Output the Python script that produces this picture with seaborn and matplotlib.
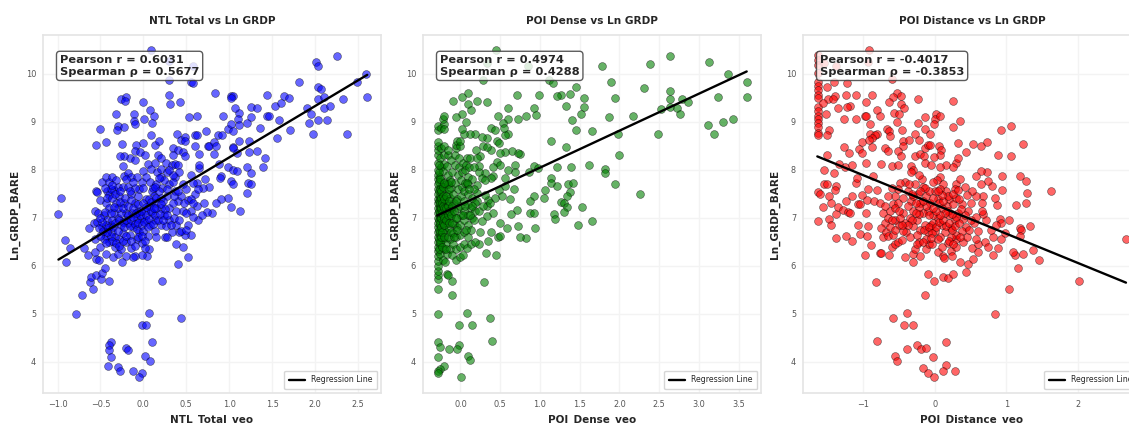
import pandas as pd
import seaborn as sns
import matplotlib.pyplot as plt

# values as (x, Ln_GRDP_BARE)
ntl_points = [
    (-0.79,4.99),(0.06,5.01),(-0.02,4.76),(0.03,4.76),(0.44,4.91),(0.10,4.42),(-0.38,4.41),(-0.40,4.34),(-0.40,4.25),(-0.20,4.29),
    (-0.18,4.25),(-0.38,4.09),(0.02,4.12),(0.08,4.02),(-0.41,3.91),(-0.30,3.89),(-0.27,3.81),(-0.12,3.81),(-0.02,3.76),(-0.05,3.69),
    (-0.71,5.39),(-0.59,5.51),(-0.62,5.66),(-0.61,5.76),(-0.55,5.81),(-0.49,5.73),(-0.48,5.85),(-0.45,5.95),(-0.40,5.69),(0.22,5.68),
    (0.40,6.04),(0.52,6.18),(-0.90,6.07),(-0.86,6.37),(-0.91,6.54),(-0.99,7.08),(-0.96,7.42),(-0.69,6.38),(-0.65,6.22),(-0.63,6.79),
    (0.09,10.5),(0.30,10.26),(0.58,10.17),(0.30,9.88),(0.56,9.84),(0.58,9.81),(0.30,9.57),(0.31,9.38),(0.43,9.41),(0.84,9.6),
    (1.02,9.53),(1.04,9.54),(1.02,9.49),(-0.26,9.48),(-0.2,9.51),(-0.21,9.44),(0,9.42),(0.08,9.24),(0.12,9.12),(0.01,9.07),
    (-0.32,9.16),(-0.11,9.16),(-0.11,9.01),(-0.10,8.96),(0.1,8.97),(-0.29,8.92),(-0.23,8.9),(-0.31,8.82),(-0.51,8.85),(-0.44,8.59),
    (-0.55,8.51),(-0.25,8.53),(0.09,8.72),(-0.01,8.56),(-0.09,8.51),(-0.10,8.40),(-0.04,8.38),(0.02,8.30),(0.14,8.51),(0.18,8.6),
    (0.39,8.74),(0.34,8.45),(0.40,8.42),(0.46,8.37),(0.35,8.3),(0.49,8.28),(0.44,8.62),(0.49,8.69),(0.48,8.6),(0.53,9.1),
    (0.63,9.13),(0.6,8.73),(0.63,8.73),(0.6,8.49),(0.73,8.8),(0.75,8.5),(0.77,8.49),(0.82,8.57),(0.85,8.49),(0.82,8.33),
    (0.65,8.33),(0.87,8.73),(0.92,8.73),(0.93,9.13),(0.99,8.85),(1.02,8.96),(1.04,8.8),(1.11,9.18),(1.07,9.29),(1.10,9.07),
    (1.12,8.94),(1.12,8.6),(1.04,8.47),(1.05,8.46),(1.09,8.36),(1.23,8.6),(1.21,8.98),(1.26,9.1),(1.25,9.3),(1.33,9.28),
    (1.36,8.87),(1.23,8.38),(1.32,8.4),(1.42,8.25),(1.40,8.06),(1.44,9.55),(1.54,9.33),(1.6,9.4),(1.64,9.54),(1.70,9.49),
    (1.44,9.13),(1.47,9.12),(1.58,9.03),(1.71,8.83),(1.56,8.67),(1.81,9.83),(1.91,9.28),(1.95,9.17),(1.93,8.98),(1.98,8.74),
    (2.03,9.04),(2.14,9.03),(2.10,9.28),(2.17,9.33),(2.04,9.48),(2.11,9.51),(2.03,9.72),(2.07,9.68),(2.01,10.24),(2.04,10.17),
    (2.26,10.38),(2.59,9.99),(2.49,9.83),(2.61,9.52),(2.33,9.47),(2.37,8.74),(1.21,8.05),(1.26,7.93),(1.22,7.72),(1.25,7.71),
    (1.21,7.52),(1.13,7.14),(1.02,7.23),(0.99,7.41),(0.99,8.05),(1.05,8.0),(1.09,7.97),(1.02,7.76),(1.05,7.71),(0.90,7.87),
    (0.89,7.82),(0.88,8.12),(0.91,7.4),(0.85,7.31),(0.80,7.1),(0.74,7.12),(0.71,7.31),(0.76,7.65),(0.70,7.62),(0.65,8.03),
    (0.65,8.1),(0.72,7.8),(0.63,7.73),(0.6,7.5),(0.58,7.72),(0.64,7.6),(0.62,7.25),(0.55,7.15),(0.64,6.95),(0.68,7.05),
    (0.52,6.85),(0.55,6.65),(0.48,6.65),(0.38,6.45),(0.46,6.4),(0.42,6.7),(0.38,6.85),(0.33,6.7),(0.3,6.95),(0.25,6.6),
    (0.2,6.85),(0.14,6.72),(0.07,6.35),(0.04,6.2),(-0.02,6.22),(-0.1,6.2),(-0.12,6.18),(-0.2,6.2),(-0.25,6.07),(-0.35,6.18),
    (-0.44,6.25),(-0.55,6.15),(-0.52,6.13),(-0.56,6.28),(-0.5,6.4),(-0.56,6.55),(-0.58,6.9),(-0.54,6.92),(-0.56,7.14),(-0.53,7.1),
    (-0.55,7.55),(-0.54,7.53),(-0.5,7.37),(-0.48,7.75),(-0.43,7.85),(-0.4,7.75),(-0.36,7.85),(-0.42,7.55),(-0.4,7.48),(-0.34,7.58),
    (-0.3,7.65),(-0.44,7.3),(-0.4,7.2),(-0.46,7.05),(-0.48,6.8),(-0.42,6.95),(-0.38,6.85),(-0.44,6.62),(-0.4,6.5),(-0.36,6.7),
    (-0.33,6.4),(-0.28,6.55),(-0.3,6.25),(-0.26,6.85),(-0.3,7.0),(-0.32,7.3),(-0.28,7.45),(-0.24,7.65),(-0.22,7.3),(-0.2,7.1),
    (-0.18,6.9),(-0.24,6.68),(-0.2,6.5),(-0.15,6.38),(-0.16,6.65),(-0.12,6.8),(-0.08,6.55),(-0.05,6.7),(-0.02,6.48),(0.02,6.38),
    (0.05,6.62),(0.08,6.85),(0.03,6.95),(-0.03,7.0),(-0.08,6.98),(-0.13,7.1),(-0.1,7.3),(-0.06,7.45),(-0.14,7.5),(-0.18,7.65),
    (-0.22,7.88),(-0.24,8.08),(-0.18,7.93),(-0.14,7.85),(-0.16,8.25),(-0.22,8.28),(-0.27,8.29),(-0.1,8.2),(-0.05,7.6),(-0.02,7.75),
    (0.0,7.98),(0.03,7.85),(0.05,8.13),(0.09,8.02),(0.08,7.75),(0.1,7.55),(0.03,7.4),(0.06,7.25),(0.1,7.1),(0.13,6.95),
    (0.14,7.3),(0.12,7.45),(0.15,7.7),(0.16,7.95),(0.14,8.15),(0.17,8.3),(0.2,8.25),(0.2,8.02),(0.2,7.85),(0.22,7.62),
    (0.2,7.42),(0.2,7.2),(0.24,7.05),(0.26,6.82),(0.3,7.2),(0.28,7.45),(0.3,7.7),(0.28,7.95),(0.26,8.15),(0.33,8.1),
    (0.37,8.12),(0.4,8.1),(0.37,7.85),(0.34,7.75),(0.37,7.55),(0.4,7.35),(0.38,7.15),(0.36,7.0),(0.42,6.95),(0.46,7.15),
    (0.44,7.45),(0.46,7.7),(0.42,7.95),(0.5,7.6),(0.52,7.38),(0.5,7.1),(0.55,7.9),(0.56,7.4),(0.58,7.3),(0.02,7.15),
    (-0.06,7.15),(0.15,6.6),(0.27,6.6),(0.23,7.35),(-0.34,7.1),(-0.36,6.95),(-0.52,6.78),(-0.46,6.55),(-0.33,6.6),(-0.26,6.35),
]
# the crowded middle of the first panel
ntl_core_points = [
    (-0.5,6.62),(-0.47,6.72),(-0.44,6.85),(-0.41,6.78),(-0.38,6.62),(-0.35,6.8),(-0.33,6.9),(-0.3,6.72),(-0.28,6.95),(-0.26,7.1),
    (-0.24,6.92),(-0.22,6.8),(-0.2,6.95),(-0.18,7.05),(-0.16,6.82),(-0.14,6.95),(-0.12,7.02),(-0.1,6.88),(-0.08,6.76),(-0.06,6.9),
    (-0.04,7.05),(-0.02,6.85),(0.0,6.72),(0.01,6.92),(0.03,7.05),(0.05,6.8),(0.07,6.98),(0.09,7.15),(0.11,6.88),(0.13,7.05),
    (0.15,7.2),(0.17,6.95),(0.19,7.08),(0.21,7.28),(0.23,6.95),(0.25,7.18),(-0.3,7.2),(-0.27,7.32),(-0.24,7.2),(-0.21,7.42),
    (-0.18,7.25),(-0.15,7.38),(-0.12,7.2),(-0.09,7.1),(-0.06,7.28),(-0.03,7.15),(0.0,7.3),(0.03,7.22),(0.06,7.4),(0.09,7.32),
    (0.12,7.2),(0.15,7.42),(0.18,7.55),(0.11,7.62),(-0.36,6.52),(-0.32,6.48),(-0.28,6.42),(-0.24,6.52),(-0.2,6.62),(-0.15,6.52),
    (-0.1,6.42),(-0.06,6.6),(-0.02,6.62),(0.02,6.52),(-0.48,6.92),(-0.45,7.12),(-0.42,7.42),(-0.38,7.6),(-0.36,7.42),(-0.33,7.5),
    (-0.38,7.1),(-0.34,7.22),(-0.42,6.7),(-0.5,7.0),(-0.44,6.48),(0.27,7.05),(0.32,6.85),(0.34,7.3),(0.36,7.45),(0.27,7.6),
    (0.44,6.72),(0.5,6.75),(0.58,7.02),(0.47,7.3),(0.4,7.55),(0.35,7.9),(0.3,8.0),(0.24,7.78),(0.18,7.82),(0.13,7.65),
    (-0.1,7.62),(-0.07,7.85),(-0.12,7.75),(-0.16,7.55),(-0.2,7.8),(-0.27,7.55),(-0.32,7.78),(-0.37,7.68),(-0.45,7.62),(0.0,7.62),
]

dense_points = [
    (2.63,10.38),(3.12,10.24),(2.38,10.21),(1.78,10.17),(0.85,10.17),(0.45,10.49),(0.33,10.22),(0.28,9.88),(1.11,9.88),(1.16,9.81),
    (1.89,9.83),(3.37,9.99),(3.6,9.83),(3.6,9.52),(3.24,9.52),(2.31,9.71),(2.63,9.64),(2.63,9.48),(2.79,9.48),(2.86,9.41),
    (2.52,9.27),(2.63,9.32),(2.72,9.29),(2.76,9.17),(3.11,8.94),(3.19,8.75),(3.3,8.99),(3.43,9.05),(2.49,8.74),(2.17,9.12),
    (1.87,9.11),(1.94,9.49),(2.26,7.49),(1.95,7.71),(1.99,8.3),(1.98,8.74),(1.66,8.8),(1.62,8.11),(1.82,8.01),(1.82,7.94),
    (1.66,6.94),(1.48,6.85),(1.53,7.23),(1.45,8.84),(1.4,9.03),(1.52,9.16),(1.55,9.31),(1.56,9.49),(1.45,9.72),(1.38,9.58),
    (1.27,9.55),(1.22,9.54),(1.33,9.33),(0.99,9.55),(0.71,9.55),(0.6,9.29),(0.93,9.29),(0.95,9.14),(0.83,9.12),(0.73,9.05),
    (0.6,9.06),(0.47,9.12),(0.53,8.97),(0.33,9.41),(0.21,9.43),(0.09,9.6),(0.02,9.51),(-0.09,9.44),(0.1,9.38),(0.13,9.24),
    (0.02,9.17),(-0.05,9.11),(0.07,8.99),(1.14,8.61),(1.33,8.48),(1.39,8.05),(1.21,8.05),(0.92,8.09),(0.98,8.03),(0.86,7.96),
    (1.14,7.83),(1.14,7.73),(1.22,7.67),(1.35,7.71),(1.41,7.73),(1.38,7.53),(1.34,7.45),(1.06,7.58),(1.05,7.41),(0.92,7.46),
    (0.88,7.35),(1.27,7.33),(1.3,7.3),(1.34,7.23),(1.3,7.13),(1.18,7.07),(1.19,6.98),(0.87,7.1),(0.93,7.1),(0.94,6.79),
    (0.83,6.58),(0.75,6.6),(0.72,6.84),(0.71,7.16),(0.64,7.08),(0.67,7.6),(0.75,8.33),(0.73,8.35),(0.69,8.1),(0.69,7.96),
    (0.6,8.0),(0.65,8.4),(0.56,8.37),(0.5,8.35),(0.46,8.6),(0.49,8.56),(0.39,8.42),(0.38,8.87),(0.44,8.82),(0.6,8.74),
    (0.56,8.72),(0.55,8.87),(0.33,8.67),(0.27,8.68),(0.18,8.74),(0.12,8.74),(0.04,8.75),(0.2,8.42),(0.28,8.49),(0.33,8.48),
    (0.46,8.17),(0.5,8.11),(0.41,8.05),(0.41,7.87),(0.39,7.83),(0.56,7.83),(0.56,7.66),(0.48,7.59),(0.52,7.45),(0.63,7.4),
    (0.44,7.42),(0.31,7.94),(0.23,7.96),(0.23,8.09),(0.25,8.28),(0.27,7.83),(0.21,7.69),(0.21,7.52),(0.21,7.35),(0.35,7.38),
    (0.33,7.24),(0.41,7.1),(0.33,7.03),(0.27,6.93),(0.39,6.71),(0.5,6.9),(0.58,6.79),(0.47,6.6),(0.5,6.63),(0.35,6.51),
    (0.45,6.22),(0.32,6.27),(0.23,6.46),(0.25,6.71),(0.3,5.67),(-0.28,4.99),(0.08,5.01),(-0.02,4.76),(0.15,4.76),(0.37,4.92),
    (0.4,4.43),(-0.28,4.42),(-0.25,4.3),(-0.14,4.26),(-0.02,4.35),(-0.04,4.26),(0.1,4.13),(0.12,4.03),(-0.28,4.1),(-0.21,3.91),
    (-0.25,3.85),(-0.28,3.8),(-0.28,3.77),(0.01,3.69),(-0.11,5.39),(-0.28,5.51),(-0.1,5.68),(-0.17,5.82),(-0.15,5.81),(-0.28,5.72),
    (-0.28,5.8),(-0.28,5.9),(-0.28,6.0),(-0.28,6.1),(-0.28,6.2),(-0.28,6.3),(-0.28,6.4),(-0.28,6.5),(-0.28,6.6),(-0.28,6.7),
    (-0.28,6.8),(-0.28,6.9),(-0.28,7.0),(-0.28,7.1),(-0.28,7.2),(-0.28,7.3),(-0.28,7.4),(-0.28,7.5),(-0.28,7.6),(-0.28,7.7),
    (-0.28,7.8),(-0.28,7.9),(-0.28,8.0),(-0.28,8.15),(-0.28,8.3),(-0.28,8.42),(-0.28,8.5),(-0.28,8.58),(-0.28,8.82),(-0.28,8.92),
    (-0.26,6.25),(-0.25,6.45),(-0.25,6.65),(-0.26,6.85),(-0.25,7.05),(-0.26,7.25),(-0.25,7.45),(-0.24,7.65),(-0.26,7.85),(-0.24,8.05),
    (-0.25,8.25),(-0.24,8.45),(-0.24,8.88),(-0.21,8.95),(-0.22,9.05),(-0.2,9.12),(-0.2,8.85),(-0.22,6.12),(-0.21,6.35),(-0.22,6.55),
    (-0.21,6.75),(-0.21,6.95),(-0.22,7.15),(-0.21,7.35),(-0.2,7.55),(-0.21,7.75),(-0.22,7.98),(-0.2,8.12),(-0.21,8.3),(-0.2,8.5),
    (-0.17,6.25),(-0.18,6.48),(-0.18,6.7),(-0.17,6.9),(-0.18,7.1),(-0.17,7.3),(-0.16,7.5),(-0.18,7.7),(-0.16,7.9),(-0.17,8.08),
    (-0.15,8.3),(-0.16,8.42),(-0.19,6.08),(-0.13,6.35),(-0.13,6.55),(-0.14,6.78),(-0.13,7.0),(-0.12,7.2),(-0.13,7.42),(-0.12,7.62),
    (-0.13,7.78),(-0.1,7.95),(-0.12,8.2),(-0.1,6.22),(-0.09,6.45),(-0.09,6.68),(-0.08,6.88),(-0.1,7.1),(-0.08,7.3),(-0.09,7.5),
    (-0.07,7.72),(-0.07,8.1),(-0.07,8.3),(-0.05,8.45),(-0.06,8.52),(-0.04,8.6),(-0.05,6.12),(-0.05,6.35),(-0.05,6.6),(-0.04,6.8),
    (-0.04,7.0),(-0.03,7.2),(-0.04,7.4),(-0.03,7.6),(-0.03,7.9),(-0.02,8.05),(-0.02,8.25),(0.0,8.5),(0.0,8.6),(-0.01,6.18),
    (-0.01,6.4),(0.0,6.65),(0.0,6.85),(0.01,7.05),(0.0,7.25),(0.01,7.45),(0.02,7.65),(0.01,7.78),(0.02,7.95),(0.03,8.15),
    (0.02,8.85),(0.03,6.22),(0.04,6.45),(0.04,6.7),(0.05,6.95),(0.04,7.15),(0.05,7.35),(0.05,7.55),(0.06,7.72),(0.06,8.0),
    (0.08,8.25),(0.07,8.1),(0.08,6.38),(0.09,6.6),(0.09,6.85),(0.09,7.05),(0.09,7.28),(0.1,7.5),(0.1,7.7),(0.1,7.85),
    (0.11,8.05),(0.12,8.25),(0.13,6.45),(0.13,6.75),(0.14,7.0),(0.13,7.2),(0.14,7.42),(0.17,7.6),(0.15,7.8),(0.18,6.5),
    (0.17,6.95),(0.19,7.15),(0.18,7.3),(0.23,7.15),(0.21,8.25),(0.17,8.05),(0.29,7.25),(0.31,7.48),(0.31,7.78),(0.37,7.3),
]
# the crowded left edge of the second panel
dense_core_points = [
    (-0.27,6.35),(-0.27,6.55),(-0.27,6.75),(-0.27,6.95),(-0.27,7.15),(-0.27,7.35),(-0.27,7.55),(-0.27,7.75),(-0.27,7.95),(-0.27,8.1),
    (-0.26,6.5),(-0.26,6.7),(-0.26,7.0),(-0.26,7.2),(-0.26,7.4),(-0.26,7.6),(-0.26,7.8),(-0.25,6.9),(-0.25,7.1),(-0.25,7.3),
    (-0.24,6.6),(-0.24,6.8),(-0.24,7.0),(-0.24,7.2),(-0.24,7.42),(-0.24,7.55),(-0.23,6.4),(-0.23,6.7),(-0.23,7.1),(-0.23,7.3),
    (-0.22,6.9),(-0.22,7.05),(-0.22,7.25),(-0.22,7.45),(-0.22,7.65),(-0.2,6.6),(-0.2,6.85),(-0.2,7.0),(-0.2,7.2),(-0.2,7.4),
    (-0.18,6.35),(-0.18,6.95),(-0.18,7.2),(-0.18,7.45),(-0.16,6.6),(-0.16,7.05),(-0.16,7.25),(-0.16,7.7),(-0.14,6.9),(-0.14,7.15),
    (-0.14,7.35),(-0.14,7.6),(-0.12,6.7),(-0.12,7.05),(-0.12,7.75),(-0.1,6.9),(-0.1,7.25),(-0.08,6.6),(-0.08,7.15),(-0.06,7.0),
    (-0.06,7.35),(-0.04,6.75),(0.03,7.05),(0.06,7.25),(0.08,7.72),(0.12,7.05),(0.14,7.25),(0.11,7.6),(0.07,6.75),(-0.2,7.72),
]

dist_points = [
    (-1.63,10.4),(-1.63,10.29),(-1.63,10.19),(-1.63,10.01),(-1.63,9.84),(-1.63,9.74),(-1.63,9.67),(-1.63,9.56),(-1.63,9.49),(-1.63,9.32),
    (-1.63,9.22),(-1.63,9.12),(-1.63,9.05),(-1.63,8.98),(-1.63,8.89),(-1.63,8.76),(-1.63,8.73),(-1.54,10.22),(-1.38,10.17),(-0.92,10.5),
    (-0.93,10.24),(-0.6,9.89),(-1.41,9.83),(-1.22,9.81),(-1.51,9.72),(-1.39,9.54),(-1.49,9.48),(-1.42,9.48),(-1.56,9.39),(-1.24,9.55),
    (-1.1,9.55),(-0.87,9.57),(-0.96,9.41),(-1.35,9.29),(-1.18,9.33),(-1.22,9.3),(-1.52,9.16),(-1.27,9.05),(-1.1,9.07),(-0.97,9.13),
    (-0.96,9.12),(-0.8,9.24),(-0.76,9.12),(-0.9,8.95),(-1.48,8.84),(-1.51,8.73),(-0.53,9.61),(-0.58,9.51),(-0.47,9.54),(-0.64,9.42),
    (-0.47,9.38),(-0.43,9.29),(-0.57,9.19),(-0.5,9.17),(-0.53,8.99),(-0.24,9.48),(0.26,9.44),(-0.14,9.11),(-0.23,8.97),(0.02,9.17),
    (0,9.07),(-0.01,8.95),(0.07,9.12),(0.26,8.9),(0.35,9.01),(-0.13,8.85),(-0.07,8.74),(-0.46,8.84),(-0.67,8.85),(-0.64,8.8),
    (-0.63,8.7),(-0.9,8.74),(-0.8,8.74),(-0.83,8.73),(-1.02,8.59),(-0.88,8.66),(-0.92,8.63),(-1.27,8.47),(-1.2,8.36),(-1.06,8.43),
    (-1.01,8.35),(-0.88,8.48),(-0.7,8.46),(-0.65,8.39),(-0.44,8.6),(-0.44,8.49),(-0.51,8.4),(-0.47,8.28),(-0.36,8.63),(-0.28,8.75),
    (-0.22,8.63),(-0.14,8.46),(-0.09,8.51),(-0.07,8.51),(0.06,8.49),(0.09,8.42),(0.08,8.31),(0.32,8.56),(0.53,8.53),(0.43,8.38),
    (0.65,8.5),(0.73,8.59),(0.93,8.82),(1.06,8.92),(1.23,8.53),(0.88,8.31),(1.07,8.28),(-0.28,8.28),(-0.21,8.33),(-0.15,8.28),
    (-0.01,8.26),(-0.13,8.14),(-0.05,8.1),(-1.51,8.3),(-1.34,8.12),(-1.54,7.99),(-1.41,7.93),(-1.26,8.05),(-1.15,8.1),(-0.96,8.14),
    (-0.75,8.12),(-0.6,8.07),(-0.51,8.11),(-0.33,8.07),(0.16,8.11),(0.3,8.15),(0.33,8.25),(0.26,8.05),(0.08,8.05),(-1.55,7.71),
    (-1.51,7.71),(-1.63,7.53),(-1.6,7.49),(-1.38,7.67),(-1.39,7.59),(-1.48,7.45),(-1.45,7.31),(-1.56,7.23),(-1.63,6.94),(-1.47,6.98),
    (-1.45,6.85),(-1.38,6.58),(-1.38,7.07),(-1.35,7.23),(-1.28,7.17),(-1.24,7.35),(-1.16,7.45),(-1.21,7.12),(-1.18,7.1),(-1.24,6.63),
    (-1.16,6.51),(-1.07,6.85),(-1.04,6.67),(-0.94,6.62),(-0.93,6.84),(-0.89,6.44),(-0.98,6.22),(-0.77,6.27),(-0.75,6.26),(-0.64,6.22),
    (-1.07,7.28),(-1.04,7.28),(-0.96,7.1),(-1.02,7.47),(-0.95,7.38),(-1.1,7.73),(-1.08,7.83),(-0.93,7.6),(-0.86,7.88),(-0.8,7.58),
    (-0.85,7.35),(-0.77,7.31),(-0.82,5.67),(-0.1,5.83),(-0.01,5.68),(-0.13,5.4),(0.11,5.77),(0.18,5.75),(0.26,5.82),(0.44,5.87),
    (0.47,6.04),(0.35,6.07),(0.54,6.15),(1.03,5.51),(1.16,5.96),(1.46,6.13),(1.37,6.33),(1.23,6.25),(1.12,6.22),(1.09,6.28),
    (2.01,5.69),(2.67,6.55),(0.84,5.0),(1.62,7.56),(1.28,7.76),(1.19,7.87),(1.29,7.52),(1.27,7.31),(1.14,7.26),(0.94,7.88),
    (0.94,7.58),(1.33,6.83),(1.19,6.79),(1.2,6.74),(1.19,6.62),(1.03,6.95),(0.91,6.97),(0.92,6.9),(0.98,6.69),(0.93,6.56),
    (0.88,6.38),(0.81,6.22),(0.87,7.26),(0.84,7.42),(0.8,7.66),(0.74,7.77),(0.73,7.96),(0.65,7.98),(0.58,7.88),(0.65,7.71),
    (0.67,7.45),(0.66,7.3),(-0.58,4.92),(-0.39,5.02),(-0.43,4.76),(-0.31,4.76),(-0.8,4.43),(0.15,4.41),(-0.55,4.13),(-0.53,4.02),
    (-0.39,4.26),(-0.25,4.34),(-0.19,4.26),(-0.12,4.29),(-0.03,4.09),(0.15,3.93),(0.12,3.81),(0.28,3.81),(-0.17,3.88),(-0.09,3.76),
    (-0.01,3.69),(-0.72,7.1),(-0.7,6.9),(-0.75,6.78),(-0.72,6.6),(-0.68,6.7),(-0.6,6.4),(-0.56,6.45),(-0.52,6.5),(-0.46,6.53),
    (-0.42,6.18),(-0.3,6.25),(-0.28,6.35),(-0.3,6.08),(-0.2,6.2),(-0.22,6.5),(-0.12,6.35),(-0.08,6.45),(-0.04,6.45),(0.04,6.28),
    (0.12,6.2),(0.13,6.17),(0.22,6.3),(0.3,6.4),(0.24,6.2),(0.3,6.55),(0.4,6.5),(0.45,6.6),(0.52,6.38),(0.6,6.45),
    (0.58,6.55),(0.6,6.28),(0.7,6.5),(0.75,6.4),(0.82,6.6),(0.85,6.85),(0.78,6.75),(0.72,6.95),(0.68,7.08),(0.66,7.15),
    (0.6,6.72),(0.55,6.9),(0.58,7.02),(0.5,7.3),(0.57,7.45),(0.52,7.55),(0.45,7.48),(0.42,7.65),(0.3,7.7),(0.35,7.8),
    (0.28,7.6),(0.38,7.28),(0.33,7.1),(0.4,6.98),(0.44,6.8),(0.3,6.65),(0.22,6.78),(0.28,6.95),(0.2,7.05),(0.17,7.25),
    (0.2,7.4),(0.16,7.55),(0.12,7.7),(0.08,7.85),(0.03,7.78),(-0.02,7.75),(0.0,7.55),(0.05,7.4),(0.1,7.2),(0.05,7.0),
    (0.1,6.85),(0.14,6.7),(0.07,6.6),(0.0,6.72),(-0.05,6.85),(-0.03,7.05),(-0.1,7.15),(-0.06,7.3),(-0.12,7.45),(-0.16,7.65),
    (-0.18,7.8),(-0.22,7.9),(-0.3,8.0),(-0.33,7.95),(-0.27,7.7),(-0.24,7.5),(-0.2,7.3),(-0.17,7.1),(-0.14,6.85),(-0.1,6.7),
    (-0.12,6.55),(-0.2,6.75),(-0.25,6.95),(-0.3,7.15),(-0.33,7.35),(-0.38,7.55),(-0.42,7.75),(-0.48,7.72),(-0.52,7.6),(-0.55,7.45),
    (-0.58,7.28),(-0.62,7.15),(-0.66,7.0),(-0.7,7.25),(-0.65,7.45),(-0.6,7.62),(-0.52,7.3),(-0.45,7.1),(-0.42,6.9),(-0.4,6.7),
    (-0.35,6.6),(-0.3,6.82),(-0.35,7.0),(-0.38,7.25),(-0.3,7.45),(-0.22,7.08),(-0.25,6.65),(-0.5,6.85),(-0.55,6.95),(-0.62,6.8),
    (-0.66,6.62),(-0.58,6.65),(0.25,7.28),(0.3,7.42),(0.08,7.6),(0.18,7.15),(0.47,7.15),(0.22,6.6),(0.18,6.48),(-0.02,6.9),
]
# the crowded middle of the third panel
dist_core_points = [
    (-0.15,6.75),(-0.08,6.8),(-0.04,6.68),(0.02,6.8),(0.06,6.92),(0.12,6.95),(0.16,6.82),(0.2,6.9),(0.24,6.75),(0.28,6.82),
    (0.34,6.9),(0.38,6.72),(0.42,7.05),(0.36,7.18),(0.3,7.02),(0.24,7.08),(0.14,7.1),(0.08,7.05),(0.02,7.15),(-0.02,7.2),
    (-0.08,7.05),(-0.12,7.25),(-0.16,7.35),(-0.22,7.22),(-0.26,7.1),(-0.32,6.95),(-0.38,6.85),(-0.44,6.72),(-0.48,7.0),(-0.55,7.2),
    (0.06,7.3),(0.12,7.35),(0.18,7.45),(0.26,7.5),(0.32,7.58),(0.34,7.4),(0.1,7.48),(0.04,7.55),(-0.03,7.42),(-0.08,7.55),
    (-0.14,7.62),(-0.2,7.55),(-0.26,7.3),(-0.32,7.5),(-0.36,7.7),(-0.45,7.42),(-0.5,7.15),(-0.6,6.95),(-0.55,6.75),(-0.46,6.85),
    (-0.25,6.45),(-0.16,6.5),(-0.05,6.58),(0.04,6.55),(0.1,6.4),(0.2,6.52),(0.26,6.45),(0.35,6.6),(0.48,6.75),(0.5,6.95),
]

ntl_line_x = [-0.99, 2.61]
ntl_line_y = [6.13, 9.98]
dense_line_x = [-0.29, 3.60]
dense_line_y = [7.05, 10.05]
dist_line_x = [-1.64, 2.67]
dist_line_y = [8.28, 5.65]

panels = [
    ('NTL Total vs Ln GRDP', 'NTL_Total_veo', ntl_points + ntl_core_points, ntl_line_x, ntl_line_y, 'blue',
     'Pearson r = 0.6031\nSpearman ρ = 0.5677', (-1.17, 2.77)),
    ('POI Dense vs Ln GRDP', 'POI_Dense_veo', dense_points + dense_core_points, dense_line_x, dense_line_y, 'green',
     'Pearson r = 0.4974\nSpearman ρ = 0.4288', (-0.47, 3.78)),
    ('POI Distance vs Ln GRDP', 'POI_Distance_veo', dist_points + dist_core_points, dist_line_x, dist_line_y, 'red',
     'Pearson r = -0.4017\nSpearman ρ = -0.3853', (-1.84, 2.88)),
]
lefts = [43, 423, 803]

sns.set_theme(style='whitegrid')
plt.rcParams['axes.edgecolor'] = '#e4e4e4'
plt.rcParams['grid.color'] = '#f3f3f3'
plt.rcParams['axes.linewidth'] = 1.2

fig = plt.figure(figsize=(11.29, 4.23), dpi=100)
for left, (title, xlab, pts, lx, ly, col, note, xlim) in zip(lefts, panels):
    ax = fig.add_axes([left / 1129, 1 - 393 / 423, 338 / 1129, 358 / 423])
    df = pd.DataFrame(pts, columns=[xlab, 'Ln_GRDP_BARE'])
    sns.scatterplot(data=df, x=xlab, y='Ln_GRDP_BARE', color=col, s=32, alpha=0.6,
                    edgecolor='black', linewidth=0.4, ax=ax)
    sns.lineplot(x=lx, y=ly, color='black', linewidth=1.7, label='Regression Line', ax=ax)
    ax.set_xlim(xlim)
    ax.set_ylim(3.35, 10.81)
    ax.set_yticks([4, 5, 6, 7, 8, 9, 10])
    ax.tick_params(labelsize=5.9, colors='#555555', length=0, pad=5)
    ax.set_title(title, fontsize=7.6, fontweight='bold', color='#262626', pad=8)
    ax.set_xlabel(xlab, fontsize=7.5, fontweight='bold', color='#262626', labelpad=4)
    ax.set_ylabel('Ln_GRDP_BARE', fontsize=7.6, fontweight='bold', color='#262626', labelpad=4)
    ax.text(0.05, 0.945, note, transform=ax.transAxes, fontsize=8.2, fontweight='bold',
            va='top', color='#262626', zorder=5, linespacing=1.3,
            bbox=dict(boxstyle='round,pad=0.3', facecolor='white', edgecolor='#333333', alpha=0.8))
    ax.legend(loc='lower right', fontsize=5.6, frameon=True, borderaxespad=0.5, borderpad=0.6)

plt.savefig('out.png', dpi=100)
